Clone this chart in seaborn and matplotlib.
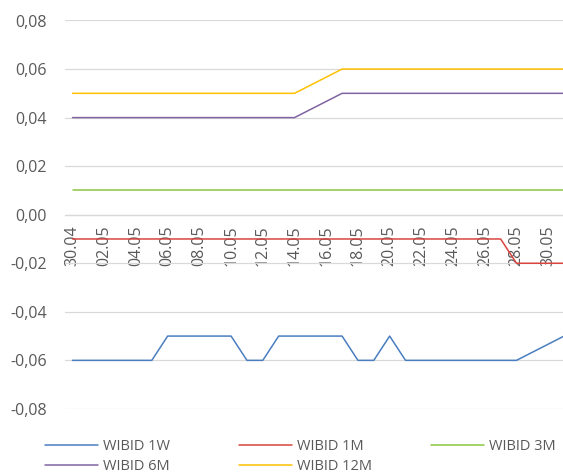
import matplotlib
matplotlib.use("Agg")
import matplotlib.pyplot as plt
import seaborn as sns
import pandas as pd
import numpy as np
from matplotlib.ticker import FixedLocator, FixedFormatter, FuncFormatter

# ---- data ----
dates = ["30.04", "01.05", "02.05", "03.05", "04.05", "05.05", "06.05", "07.05",
         "08.05", "09.05", "10.05", "11.05", "12.05", "13.05", "14.05", "15.05",
         "16.05", "17.05", "18.05", "19.05", "20.05", "21.05", "22.05", "23.05",
         "24.05", "25.05", "26.05", "27.05", "28.05", "29.05", "30.05", "31.05"]
N = None
wibid_1w = [-0.06, -0.06, -0.06, -0.06, -0.06, -0.06, -0.05, -0.05,
            -0.05, -0.05, -0.05, -0.06, -0.06, -0.05, -0.05, N,
            N, -0.05, -0.06, -0.06, -0.05, -0.06, -0.06, -0.06,
            -0.06, -0.06, -0.06, -0.06, -0.06, N, N, -0.05]
wibid_1m = [-0.01, -0.01, -0.01, -0.01, -0.01, -0.01, -0.01, -0.01,
            -0.01, -0.01, -0.01, -0.01, -0.01, -0.01, -0.01, N,
            N, -0.01, -0.01, -0.01, -0.01, -0.01, -0.01, -0.01,
            -0.01, -0.01, -0.01, -0.01, -0.02, N, N, -0.02]
wibid_3m = [0.01, 0.01, 0.01, 0.01, 0.01, 0.01, 0.01, 0.01,
            0.01, 0.01, 0.01, 0.01, 0.01, 0.01, 0.01, N,
            N, 0.01, 0.01, 0.01, 0.01, 0.01, 0.01, 0.01,
            0.01, 0.01, 0.01, 0.01, 0.01, N, N, 0.01]
wibid_6m = [0.04, 0.04, 0.04, 0.04, 0.04, 0.04, 0.04, 0.04,
            0.04, 0.04, 0.04, 0.04, 0.04, 0.04, 0.04, N,
            N, 0.05, 0.05, 0.05, 0.05, 0.05, 0.05, 0.05,
            0.05, 0.05, 0.05, 0.05, 0.05, N, N, 0.05]
wibid_12m = [0.05, 0.05, 0.05, 0.05, 0.05, 0.05, 0.05, 0.05,
             0.05, 0.05, 0.05, 0.05, 0.05, 0.05, 0.05, N,
             N, 0.06, 0.06, 0.06, 0.06, 0.06, 0.06, 0.06,
             0.06, 0.06, 0.06, 0.06, 0.06, N, N, 0.06]
series_names = ["WIBID 1W", "WIBID 1M", "WIBID 3M", "WIBID 6M", "WIBID 12M"]
series_values = [wibid_1w, wibid_1m, wibid_3m, wibid_6m, wibid_12m]
colors = ["#4A7EC0", "#D9453F", "#8CC63F", "#8064A2", "#FFC000"]
yticks = [-0.08, -0.06, -0.04, -0.02, 0.0, 0.02, 0.04, 0.06, 0.08]

rows = []
for name, vals in zip(series_names, series_values):
    for i, v in enumerate(vals):
        rows.append({"pos": i, "date": dates[i], "series": name, "value": v})
df = pd.DataFrame(rows).dropna(subset=["value"])

# ---- figure ----
sns.set_style("white")
plt.rcParams["font.family"] = ["Open Sans", "DejaVu Sans"]
txt = "#595959"
W, H = 563, 473
fig = plt.figure(figsize=(W / 100, H / 100), dpi=100)
left, right, top, bottom = 64.6, 572.0, 20.5, 408.9
ax = fig.add_axes([left / W, 1 - bottom / H, (right - left) / W, (bottom - top) / H])

sns.lineplot(data=df, x="pos", y="value", hue="series", hue_order=series_names,
             palette=dict(zip(series_names, colors)), linewidth=1.1, ax=ax,
             estimator=None, sort=True)

ax.set_xlim(-0.5, len(dates) - 0.5)
ax.set_ylim(-0.08, 0.08)
ax.set_xlabel("")
ax.set_ylabel("")

ax.yaxis.set_major_locator(FixedLocator(yticks))
ax.yaxis.set_major_formatter(FuncFormatter(lambda v, p: f"{v:.2f}".replace(".", ",").replace("-0,00", "0,00")))
ax.yaxis.grid(True, color="#D9D9D9", linewidth=0.9)
ax.xaxis.grid(False)
ax.set_axisbelow(True)
ax.tick_params(axis="y", length=0, pad=13, labelsize=11.5, labelcolor=txt)

label_pos = list(range(0, len(dates), 2))
ax.xaxis.set_major_locator(FixedLocator(label_pos))
ax.xaxis.set_major_formatter(FixedFormatter([dates[i] for i in label_pos]))
ax.xaxis.set_minor_locator(FixedLocator(np.arange(-0.5, len(dates), 2)))
ax.tick_params(axis="x", which="major", length=0, pad=8, labelsize=11.5,
               labelcolor=txt, labelrotation=90)
ax.tick_params(axis="x", which="minor", length=3.5, width=0.9, color="#D9D9D9", direction="out")

for s in ["top", "right", "left"]:
    ax.spines[s].set_visible(False)
ax.spines["bottom"].set_position(("data", 0))
ax.spines["bottom"].set_color("#D9D9D9")
ax.spines["bottom"].set_linewidth(0.9)

handles, labels = ax.get_legend_handles_labels()
ax.get_legend().remove()
hmap = dict(zip(labels, handles))
columns = [(["WIBID 1W", "WIBID 6M"], 45), (["WIBID 1M", "WIBID 12M"], 239), (["WIBID 3M"], 431)]
for names, x0 in columns:
    leg = fig.legend([hmap[k] for k in names], names, loc="upper left",
                     bbox_to_anchor=(x0 / W, 1 - 439 / H), ncol=1, frameon=False,
                     fontsize=10.5, handlelength=3.6, handletextpad=0.4,
                     labelspacing=0.35, borderaxespad=0, borderpad=0)
    for t in leg.get_texts():
        t.set_color(txt)

fig.savefig("out.png", dpi=100)
